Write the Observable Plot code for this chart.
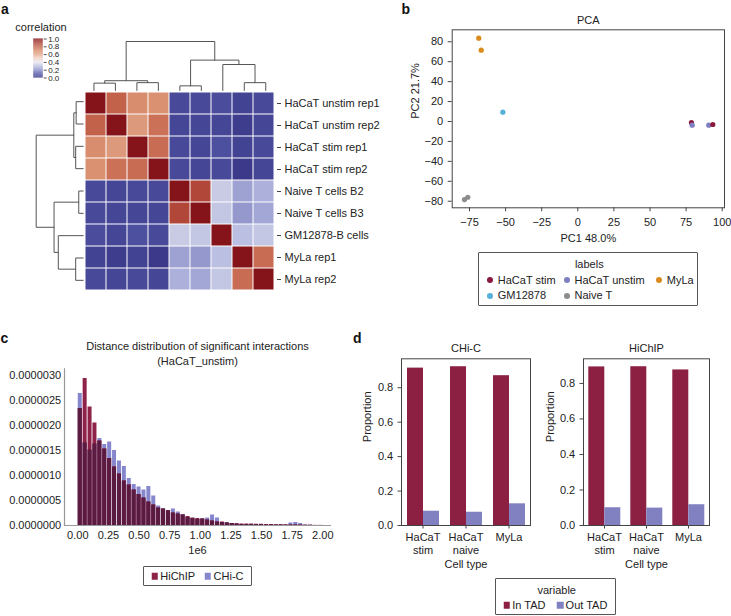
<!DOCTYPE html>
<html><head><meta charset="utf-8">
<script src="https://cdn.jsdelivr.net/npm/d3@7"></script>
<script src="https://cdn.jsdelivr.net/npm/@observablehq/plot@0.6"></script>
<style>
body{margin:0;background:#fff;}
#root{position:relative;width:731px;height:616px;overflow:hidden;font-family:"Liberation Sans",Arial,Helvetica,sans-serif;color:#222;background:#fff;}
.t{position:absolute;white-space:nowrap;font-size:11px;line-height:11px;}
.c{transform:translate(-50%,-50%);}
.letter{position:absolute;font-weight:bold;font-size:14px;line-height:14px;color:#111;}
.legend{position:absolute;border:1px solid #555;box-sizing:border-box;border-radius:1px;background:#fff;}
.dotm{position:absolute;width:6px;height:6px;border-radius:50%;transform:translate(-50%,-50%);}
.sq{position:absolute;width:6.5px;height:6.5px;transform:translate(-50%,-50%);}
</style></head><body><div id="root"></div>
<script>
// ---------------- DATA ----------------
// a: correlation heatmap
const samples = ["HaCaT unstim rep1","HaCaT unstim rep2","HaCaT stim rep1","HaCaT stim rep2","Naive T cells B2","Naive T cells B3","GM12878-B cells","MyLa rep1","MyLa rep2"];
const corr = [
  [1.00,0.80,0.68,0.67,0.06,0.06,0.07,0.04,0.06],
  [0.80,1.00,0.64,0.76,0.05,0.05,0.05,0.02,0.05],
  [0.68,0.64,1.00,0.77,0.06,0.05,0.08,0.04,0.06],
  [0.67,0.76,0.77,1.00,0.06,0.05,0.06,0.01,0.05],
  [0.06,0.05,0.06,0.06,1.00,0.87,0.33,0.24,0.27],
  [0.06,0.05,0.05,0.05,0.87,1.00,0.32,0.22,0.25],
  [0.07,0.05,0.08,0.06,0.33,0.32,1.00,0.30,0.32],
  [0.04,0.02,0.04,0.01,0.24,0.22,0.30,1.00,0.77],
  [0.06,0.05,0.06,0.05,0.27,0.25,0.32,0.77,1.00]
];
// linkage: [childA, childB, height]; new clusters numbered from 9
const linkage = [[4,5,0.095],[0,1,0.15],[2,3,0.16],[7,8,0.16],[10,11,0.20],[6,12,0.53],[9,14,0.62],[13,15,1.0]];
const corrTicks = [0,0.2,0.4,0.6,0.8,1.0];

// b: PCA
const pcaGroups = ["HaCaT stim","HaCaT unstim","MyLa","GM12878","Naive T"];
const pcaLabel = ["MyLa","MyLa","GM12878","Naive T","Naive T","HaCaT stim","HaCaT unstim","HaCaT unstim","HaCaT stim"];
const pc1 = [-68.6,-66.9,-51.9,-78.5,-76.2,78.7,79.2,90.7,93.5];
const pc2 = [83.6,71.6,9.3,-78.3,-76.0,-1.0,-3.7,-3.7,-3.0];
const pcaXTicks = [-75,-50,-25,0,25,50,75,100];
const pcaYTicks = [-80,-60,-40,-20,0,20,40,60,80];

// c: distance histogram (density, units of 1e-6), bins of 40 kb
const binWidth = 40000;
const hichipDensity = [2.34,2.94,2.37,2.05,1.69,1.53,1.34,1.17,1.03,0.89,0.81,0.71,0.62,0.55,0.47,0.41,0.35,0.33,0.30,0.25,0.23,0.21,0.18,0.15,0.14,0.13,0.11,0.09,0.07,0.07,0.05,0.04,0.035,0.03,0.03,0.03,0.025,0.025,0.02,0.02,0.015,0.015,0.01,0.01,0.01,0.008,0.005,0.005,0.003,0.003];
const chicDensity = [2.64,1.65,1.51,1.63,1.74,1.62,1.67,1.50,1.29,1.18,0.94,0.82,0.77,0.71,0.78,0.59,0.39,0.33,0.29,0.33,0.27,0.22,0.16,0.14,0.12,0.13,0.15,0.21,0.15,0.06,0.06,0.04,0.03,0.02,0.02,0.02,0.02,0.02,0.015,0.015,0.01,0.01,0.01,0.05,0.06,0.04,0.01,0.005,0,0];
const distXTicks = [0,250000,500000,750000,1000000,1250000,1500000,1750000,2000000];
const distYTicks = [0,0.5,1.0,1.5,2.0,2.5,3.0];
const histSeries = ["HiChIP","CHi-C"];

// d: TAD proportions
const cellTypes = ["HaCaT stim","HaCaT naive","MyLa"];
const tadVars = ["In TAD","Out TAD"];
const chicIn = [0.914,0.922,0.870];
const chicOut = [0.083,0.077,0.126];
const hichipIn = [0.893,0.894,0.876];
const hichipOut = [0.100,0.098,0.117];
const propTicks = [0,0.2,0.4,0.6,0.8];

// ---------------- STYLE / LAYOUT ----------------
const FONT = '"Liberation Sans", Arial, Helvetica, sans-serif';
const root = document.getElementById("root");
const baseStyle = {background:"transparent", fontFamily:FONT, fontSize:"11px", color:"#222", overflow:"visible"};
function put(el, left, top){ el.style.position="absolute"; el.style.left=left+"px"; el.style.top=top+"px"; root.appendChild(el); return el; }
function div(cls, text, left, top, extra){ const d=document.createElement("div"); d.className=cls; if(text!=null) d.textContent=text; d.style.left=left+"px"; d.style.top=top+"px"; if(extra) Object.assign(d.style, extra); return d; }
function label(str, opts){ return Plot.text([str], Object.assign({text:d=>d, lineAnchor:"middle"}, opts)); }

const heatColor = {type:"linear", domain:[0,0.1,0.2,0.3,0.4,0.5,0.6,0.7,0.8,0.9,1],
  range:["#393687","#5256a5","#8a8ec8","#bbbfe1","#e8e6ef","#f0cfbf","#e2a587","#d58868","#c2624b","#a83b31","#85141a"], clamp:true};
const RED = "#8b2042", LAV = "#8181c2";
const HIST_RED = "#8e2248", HIST_LAV = "#8686cc", HIST_BOTH = "#5b1b41";
const pcaColors = ["#8b1a3c","#7f7fc3","#d98b1e","#56b0dc","#8c8c8c"];

// ---------------- PANEL A ----------------
const cells = samples.flatMap((r,i)=>samples.map((c,j)=>({row:r, col:c, v:corr[i][j]})));
function dendroSegs(link, n){
  const pos = d3.range(n).map(i=>i+0.5), hgt = d3.range(n).map(()=>0), segs=[];
  link.forEach(([a,b,h],k)=>{
    const id=n+k;
    segs.push({id,p:pos[a],h:hgt[a]},{id,p:pos[a],h},{id,p:pos[b],h},{id,p:pos[b],h:hgt[b]});
    pos[id]=(pos[a]+pos[b])/2; hgt[id]=h;
  });
  return segs;
}
const segs = dendroSegs(linkage, samples.length);
const maxH = d3.max(linkage, d=>d[2]);

put(Plot.plot({
  width:370, height:300, marginLeft:82.7, marginRight:94, marginTop:90, marginBottom:9, style:baseStyle,
  x:{domain:samples, padding:0, axis:null},
  y:{domain:samples, padding:0},
  color:heatColor,
  marks:[
    Plot.cell(cells,{x:"col", y:"row", fill:"v", inset:0.5}),
    Plot.axisY({anchor:"right", tickSize:4, tickPadding:4, label:null, stroke:"#444"})
  ]
}),0,0);

put(Plot.plot({
  width:370, height:300, marginLeft:82.7, marginRight:94, marginTop:41, marginBottom:210, style:baseStyle,
  x:{domain:[0,samples.length], axis:null}, y:{domain:[0,maxH], axis:null},
  marks:[Plot.line(segs,{x:"p", y:"h", z:"id", stroke:"#555", strokeWidth:1})]
}),0,0);

put(Plot.plot({
  width:370, height:300, marginLeft:35.7, marginRight:287.3, marginTop:90, marginBottom:9, style:baseStyle,
  x:{domain:[0,maxH], reverse:true, axis:null}, y:{domain:[0,samples.length], reverse:true, axis:null},
  marks:[Plot.line(segs,{x:"h", y:"p", z:"id", stroke:"#555", strokeWidth:1})]
}),0,0);

// colorbar (legend ramp)
const ramp = d3.range(0,1,0.005);
put(Plot.plot({
  width:370, height:300, marginLeft:33.3, marginRight:327.3, marginTop:38.5, marginBottom:222.5,
  style:Object.assign({}, baseStyle, {fontSize:"8px"}),
  y:{domain:[0,1]}, color:heatColor,
  marks:[
    Plot.rect(ramp,{y1:d=>d, y2:d=>Math.min(1,d+0.0065), fill:d=>d+0.0025}),
    Plot.axisY({anchor:"right", ticks:corrTicks, tickFormat:".1f", tickSize:3, tickPadding:2, label:null, stroke:"#555"})
  ]
}),0,0);
root.appendChild(div("t c","correlation",41,26.7));

// ---------------- PANEL B ----------------
const pcaData = pc1.map((x,i)=>({pc1:x, pc2:pc2[i], label:pcaLabel[i]}));
put(Plot.plot({
  width:351, height:250, marginLeft:71.7, marginRight:7, marginTop:29.3, marginBottom:42.7, style:baseStyle,
  x:{domain:[-87,101.6]}, y:{domain:[-86.6,92]},
  color:{domain:pcaGroups, range:pcaColors},
  marks:[
    Plot.frame({stroke:"#444"}),
    Plot.axisX({ticks:pcaXTicks, tickSize:4, tickPadding:6.5, label:null, stroke:"#444"}),
    Plot.axisY({ticks:pcaYTicks, tickSize:4, tickPadding:5, label:null, stroke:"#444"}),
    Plot.dot(pcaData,{x:"pc1", y:"pc2", fill:"label", r:2.6}),
    label("PCA",{frameAnchor:"top", dy:-9.3}),
    label("PC1 48.0%",{frameAnchor:"bottom", dy:31}),
    label("PC2 21.7%",{frameAnchor:"left", dx:-36.7, rotate:-90})
  ]
}),380,0);

// legend b
{
  const box = div("legend", null, 478.3, 251.7, {width:"219.4px", height:"54.3px"});
  box.appendChild(div("t c","labels",110,11.6));
  const pos = [[11,27.6],[87.7,27.6],[180,27.6],[11,43.3],[87.7,43.3]];
  pcaGroups.forEach((g,i)=>{
    box.appendChild(div("dotm",null,pos[i][0],pos[i][1],{background:pcaColors[i]}));
    box.appendChild(div("t",g,pos[i][0]+7.5,pos[i][1]-5.5));
  });
  root.appendChild(box);
}

// ---------------- PANEL C ----------------
const hist = hichipDensity.map((h,i)=>({x1:i*binWidth, x2:(i+1)*binWidth, hichip:h, chic:chicDensity[i]}));
put(Plot.plot({
  width:370, height:230, marginLeft:64, marginRight:40, marginTop:38.3, marginBottom:35, style:baseStyle,
  x:{domain:[-108600,2062900]}, y:{domain:[0,3.134]},
  marks:[
    Plot.rectY(hist,{x1:"x1", x2:"x2", y:"chic", fill:HIST_LAV, insetLeft:0.45, insetRight:0.45}),
    Plot.rectY(hist,{x1:"x1", x2:"x2", y:"hichip", fill:HIST_RED, insetLeft:0.45, insetRight:0.45}),
    Plot.rectY(hist,{x1:"x1", x2:"x2", y:d=>Math.min(d.hichip,d.chic), fill:HIST_BOTH, insetLeft:0.45, insetRight:0.45}),
    Plot.frame({anchor:"left", stroke:"#999", strokeWidth:1.2}),
    Plot.frame({anchor:"bottom", stroke:"#999", strokeWidth:1.2}),
    Plot.axisX({ticks:distXTicks, tickFormat:d=>(d/1e6).toFixed(2), tickSize:0, tickPadding:6, label:null}),
    Plot.axisY({ticks:distYTicks, tickFormat:d=>(d*1e-6).toFixed(7), tickSize:0, tickPadding:3.3, label:null}),
    label("Distance distribution of significant interactions",{frameAnchor:"top", dy:-22.3}),
    label("(HaCaT_unstim)",{frameAnchor:"top", dy:-7.6}),
    label("1e6",{frameAnchor:"bottom", dy:25})
  ]
}),0,330);

// legend c
{
  const box = div("legend", null, 142.7, 565.7, {width:"109.6px", height:"20.3px"});
  const xs = [11, 64.3];
  const sw = [HIST_RED, HIST_LAV];
  histSeries.forEach((s,i)=>{
    box.appendChild(div("sq",null,xs[i],9.6,{background:sw[i]}));
    box.appendChild(div("t",s,xs[i]+5.6,4.3));
  });
  root.appendChild(box);
}

// ---------------- PANEL D ----------------
function tadPlot(title, inVals, outVals, marginLeft, width, propDx){
  const rows = cellTypes.flatMap((c,i)=>[{cell:c, variable:tadVars[0], value:inVals[i]},{cell:c, variable:tadVars[1], value:outVals[i]}]);
  return Plot.plot({
    width, height:250, marginLeft, marginRight:10, marginTop:28.3, marginBottom:55, style:baseStyle,
    fx:{domain:cellTypes, padding:0},
    x:{domain:tadVars, paddingInner:0, paddingOuter:0.28, axis:null},
    y:{domain:[0, d3.max(inVals)*1.05]},
    color:{domain:tadVars, range:[RED, LAV]},
    marks:[
      Plot.barY(rows,{fx:"cell", x:"variable", y:"value", fill:"variable"}),
      Plot.frame({facet:"super", stroke:"#444"}),
      Plot.axisY({ticks:propTicks, tickFormat:".1f", tickSize:3.5, tickPadding:4.8, label:null, stroke:"#444"}),
      Plot.axisFx({anchor:"bottom", tickFormat:d=>d.replace(" ","\n"), tickSize:3.5, tickPadding:2.8, lineHeight:1.18, label:null, stroke:"#444"}),
      label(title,{frameAnchor:"top", dy:-10.6, facet:"super"}),
      label("Cell type",{frameAnchor:"bottom", dy:39.3, facet:"super"}),
      label("Proportion",{frameAnchor:"left", dx:propDx, rotate:-90, facet:"super"})
    ]
  });
}
put(tadPlot("CHi-C", chicIn, chicOut, 31, 170, -34), 370, 330);
put(tadPlot("HiChIP", hichipIn, hichipOut, 36.7, 175, -33.4), 545, 330);

// legend d
{
  const box = div("legend", null, 495, 578.3, {width:"121px", height:"36.7px"});
  box.appendChild(div("t c","variable",60.7,10.4));
  const xs = [10.7, 64];
  tadVars.forEach((v,i)=>{
    box.appendChild(div("sq",null,xs[i],26,{background:[RED,LAV][i]}));
    box.appendChild(div("t",v,xs[i]+5.6,20.5));
  });
  root.appendChild(box);
}

// panel letters
root.appendChild(div("letter","a",1,2));
root.appendChild(div("letter","b",401.5,2));
root.appendChild(div("letter","c",0.5,330.6));
root.appendChild(div("letter","d",353,330.6));
</script></body></html>
